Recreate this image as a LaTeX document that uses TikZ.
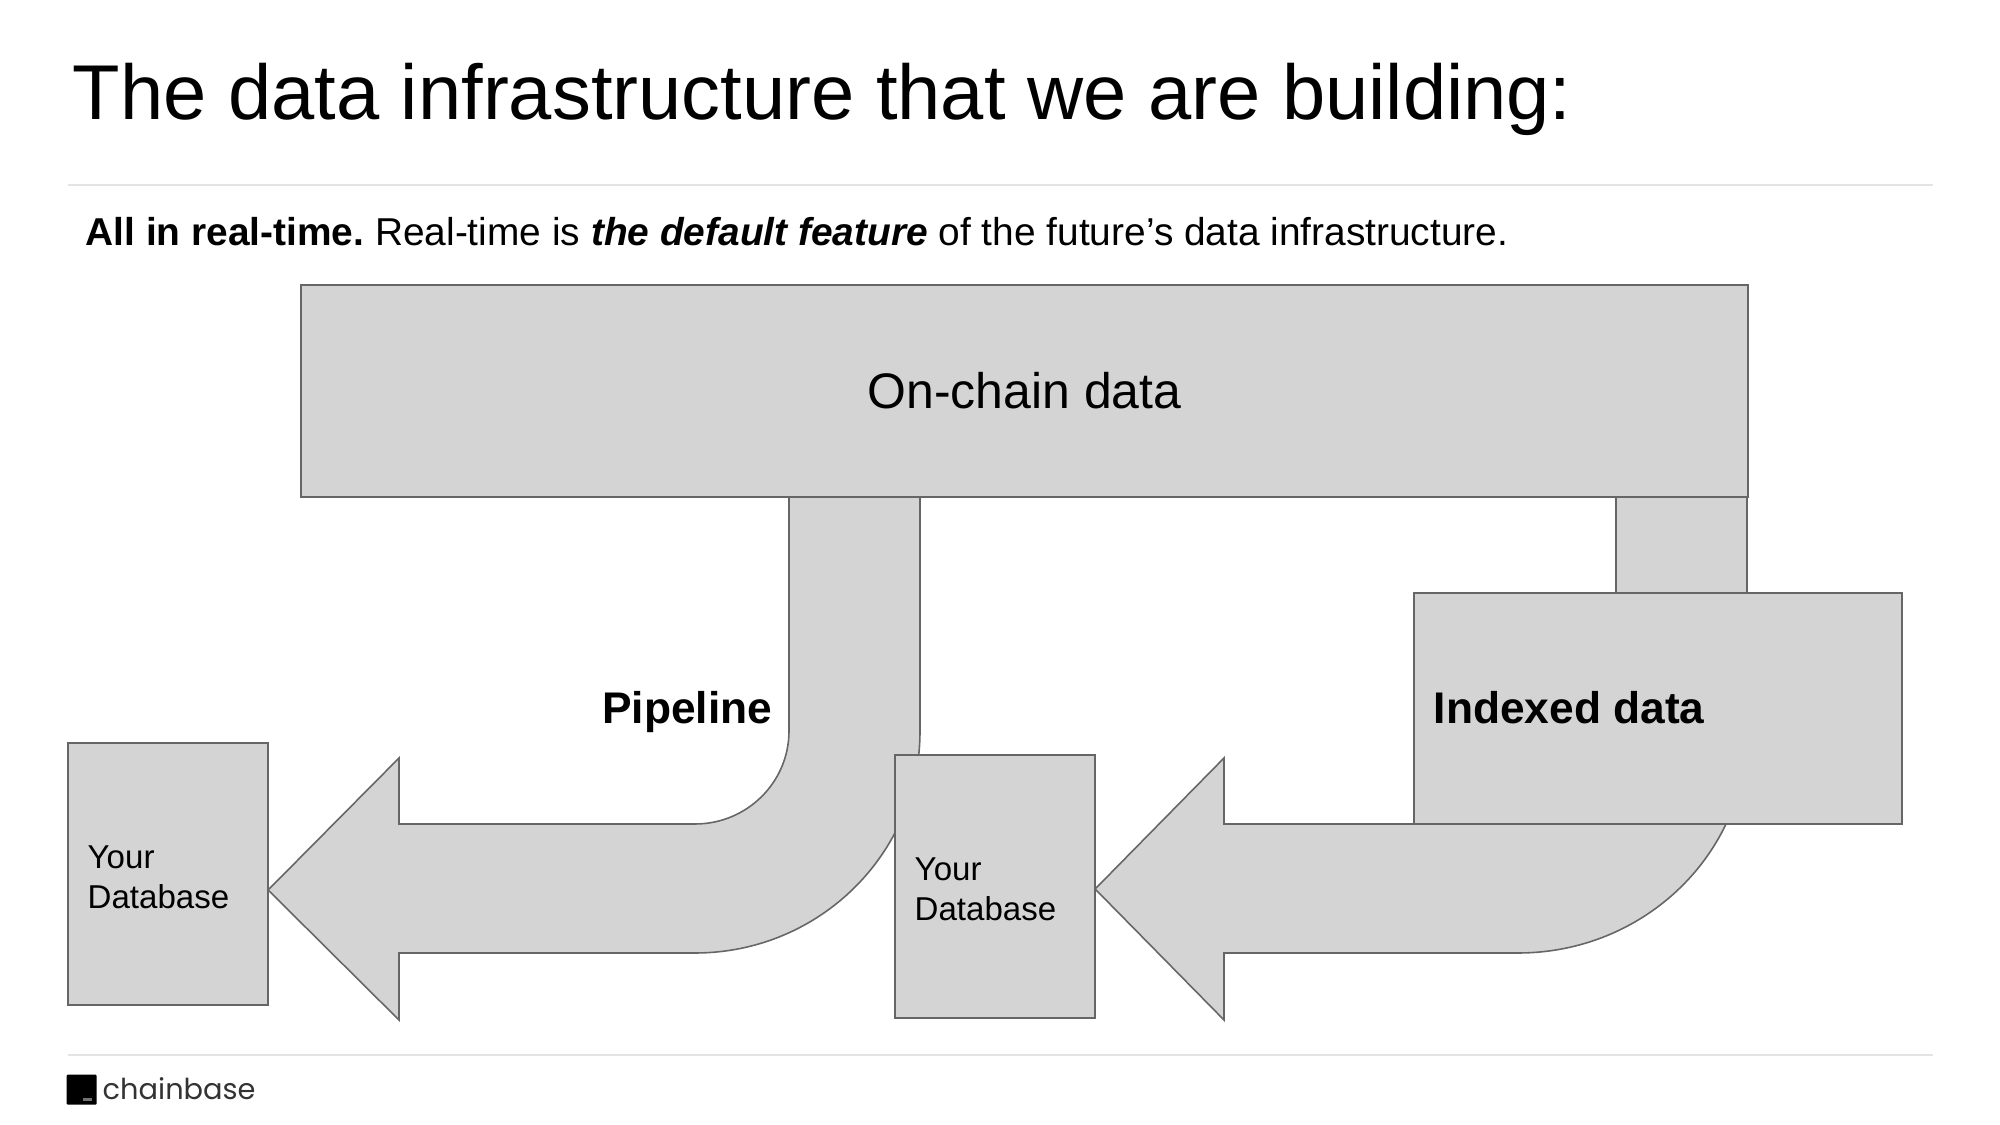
\documentclass[tikz,border=0pt]{standalone}
\usepackage{fontspec}
\setmainfont{Liberation Sans}
\newfontfamily\logofont{Poppins}
\usepackage{xcolor}
\usetikzlibrary{backgrounds}
\definecolor{boxgray}{HTML}{D4D4D4}
\definecolor{edgegray}{HTML}{666666}
\definecolor{rulegray}{HTML}{E4E4E4}
\tikzset{
  graybox/.style={draw=edgegray,fill=boxgray,line width=0.5pt,inner sep=0pt,outer sep=0pt,anchor=north west},
  bentarrow/.style={draw=edgegray,fill=boxgray,line width=0.45pt,line join=miter},
  dblabel/.style={anchor=west,align=left,inner sep=0pt,font=\fontsize{9.4}{11.4}\selectfont},
  boldlabel/.style={anchor=base west,inner sep=0pt,font=\fontsize{12.6}{15}\selectfont\bfseries},
  thinrule/.style={draw=rulegray,line width=0.4pt}
}

\begin{document}
\begin{tikzpicture}[x=0.01cm,y=-0.01cm]
                \useasboundingbox (0,0) rectangle (2000,1125);
                % heading
                \node[anchor=base west,inner sep=0pt,font=\fontsize{22.1}{26}\selectfont] (title) at (72,120) {The data infrastructure that we are building:};
                \coordinate (rulea) at (68,185);
                \coordinate (ruleb) at (1933,185);
                \draw[thinrule] (rulea) -- (ruleb);
                \node[anchor=base west,inner sep=0pt,font=\fontsize{11.05}{13}\selectfont] (subtitle) at (85,246) {\textbf{All in real-time.}\kern-1pt{} Real-time is \textbf{\textit{the default feature}} of the future’s data infrastructure.};
                % boxes
                \node[graybox,minimum width=14.46cm,minimum height=2.12cm] (onchain) at (301,285) {};
                \node[font=\fontsize{14.2}{17}\selectfont,inner sep=0pt] (onchaintext) at (onchain.center) {On-chain data};
                \node[graybox,minimum width=4.88cm,minimum height=2.31cm] (indexed) at (1414,593) {};
                \node[graybox,minimum width=2cm,minimum height=2.62cm] (dbleft) at (68,743) {};
                \node[graybox,minimum width=2cm,minimum height=2.63cm] (dbmid) at (895,755) {};
                \node[dblabel] (dblefttext) at (87,877) {Your\\Database};
                \node[dblabel] (dbmidtext) at (914,889) {Your\\Database};
                \node[boldlabel] (indexedtext) at (1433,723) {Indexed data};
                \node[boldlabel,anchor=base east] (pipelinetext) at (773,723) {Pipeline};
                % ends of the two arrows
                \coordinate (tipleft) at (dbleft.east |- 0,890);
                \coordinate (tipmid) at (dbmid.east |- 0,889);
                \coordinate (pipea) at (onchain.south -| 789,0);
                \coordinate (pipeb) at (onchain.south -| 920,0);
                \coordinate (pipec) at (onchain.south -| 1616,0);
                \coordinate (piped) at (onchain.south -| 1747,0);
                \begin{scope}[on background layer]
                    \draw[bentarrow] (tipleft) -- (399,758) -- (399,824) -- (695,824)
                        arc[start angle=90,end angle=0,x radius=94,y radius=93] -- (pipea) -- (pipeb) -- (920,731)
                        arc[start angle=0,end angle=90,x radius=225,y radius=222] -- (399,953) -- (399,1020) -- cycle;
                    \draw[bentarrow] (tipmid) -- (1224,758) -- (1224,824) -- (1523,824)
                        arc[start angle=90,end angle=0,radius=93] -- (pipec) -- (piped) -- (1747,731)
                        arc[start angle=0,end angle=90,x radius=229,y radius=222] -- (1224,953) -- (1224,1020) -- cycle;
                \end{scope}
                % footer
                \coordinate (rulec) at (68,1055);
                \coordinate (ruled) at (1933,1055);
                \draw[thinrule] (rulec) -- (ruled);
                \node[anchor=north west,fill=black,inner sep=0pt,minimum size=0.30cm,rounded corners=0.3pt] (logomark) at (66,1074) {};
                \node[anchor=north west,fill=black!55,inner sep=0pt,minimum width=0.09cm,minimum height=0.03cm] (logobar) at (82,1097) {};
                \node[anchor=base west,inner sep=0pt,text=black!80,font=\logofont\fontsize{8.2}{10}\selectfont] (logotext) at (102,1099) {chainbase};
            \end{tikzpicture}
\end{document}
